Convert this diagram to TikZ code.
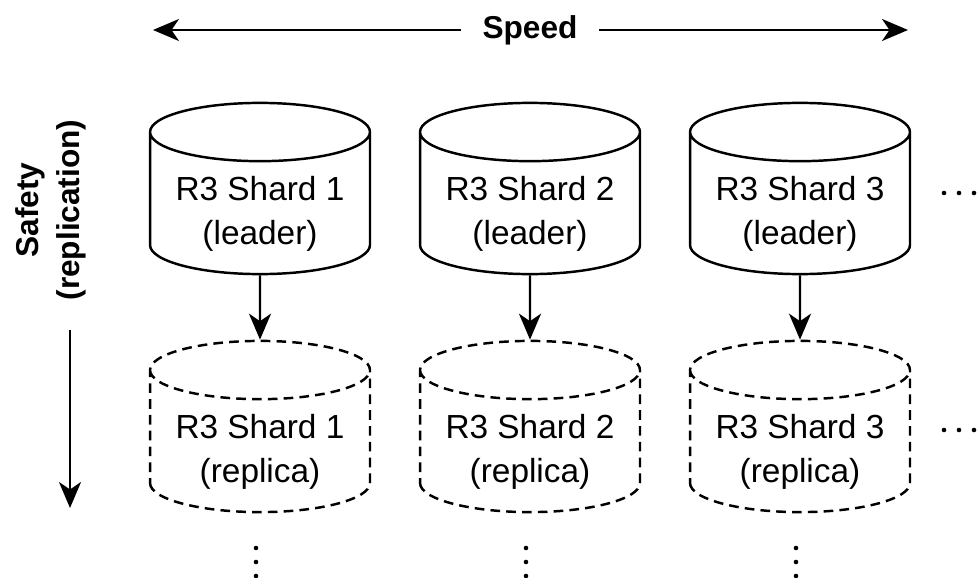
\documentclass[tikz,border=0pt]{standalone}
\usepackage{fontspec}
\setmainfont{Liberation Sans}
\usetikzlibrary{positioning, shapes.geometric, arrows.meta}
\definecolor{shardInk}{HTML}{000000}

\begin{document}
\begin{tikzpicture}[
    x=0.02cm, y=-0.02cm,
    shLeader/.style={draw=shardInk, line width=1.4pt, cylinder, shape border rotate=90, aspect=0.345, minimum width=4.4cm, minimum height=3.36cm, align=center, font=\fontsize{19}{25.5}\selectfont, inner sep=0pt, text height=47pt, text depth=-7pt, anchor=shape center},
    shReplica/.style={shLeader, dash pattern=on 5.5pt off 3.5pt},
    shLink/.style={draw=shardInk, line width=1.4pt, -{Stealth[length=0.52cm, width=0.44cm, inset=0.15cm]}},
    shAxis/.style={font=\fontsize{18}{23}\selectfont\bfseries, align=center, inner sep=0pt},
    shDot/.style={fill=shardInk, draw=none},
]
\useasboundingbox (0,0) rectangle (977,578);
\node[shAxis, inner xsep=0.42cm] (speed) at (530, 30) {Speed};
\coordinate (speedL) at (153, 30);
\coordinate (speedR) at (908, 30);
\draw[shLink] (speed.west) -- (speedL);
\draw[shLink] (speed.east) -- (speedR);
\node[shAxis, rotate=90] (safety) at (51, 210) {Safety\\(replication)};
\coordinate (safetyTop) at (70, 330);
\coordinate (safetyEnd) at (70, 508);
\draw[shLink] (safetyTop) -- (safetyEnd);
\foreach \i/\x in {1/260, 2/530, 3/800} {
  \node[shLeader] (lead\i) at (\x, 188.5) {R3 Shard \i\\(leader)};
  \node[shReplica] (rep\i) at (\x, 426.5) {R3 Shard \i\\(replica)};
  \draw[shLink] (lead\i.south) -- (rep\i.north);
  \foreach \y in {548, 562, 576} \fill[shDot] (\x-4, \y) circle (2.3);
}
\foreach \y in {193, 430} { \foreach \x in {944, 959, 974} \fill[shDot] (\x, \y) circle (2.3); }
\end{tikzpicture}
\end{document}
